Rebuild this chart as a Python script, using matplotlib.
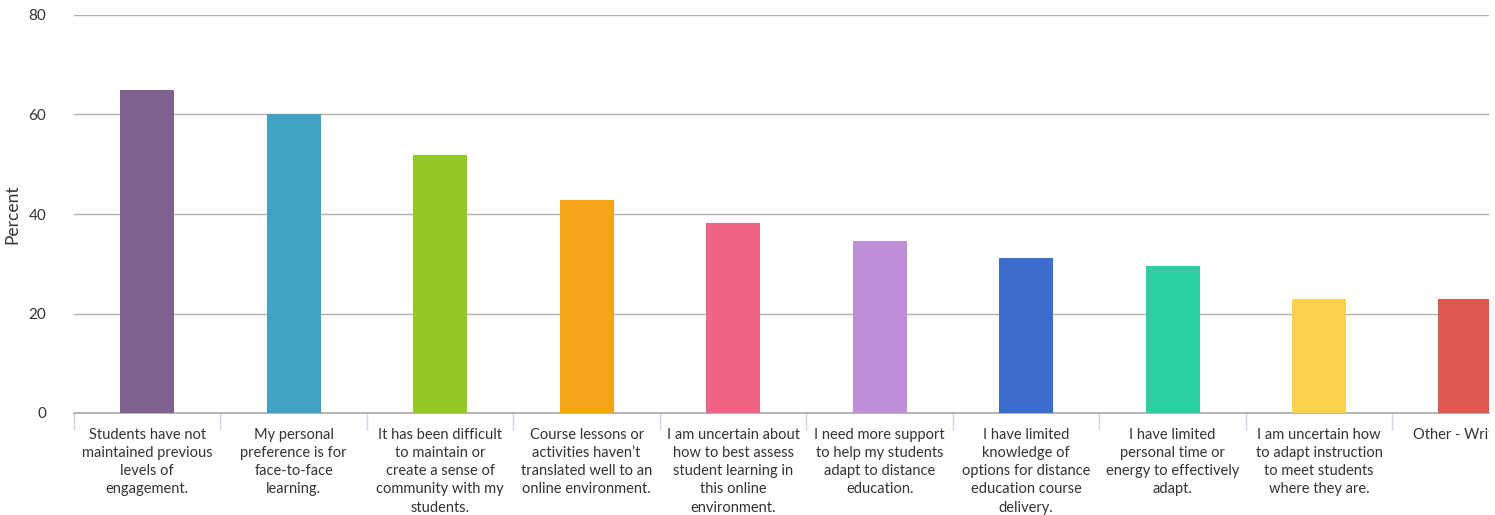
import numpy as np
import matplotlib.pyplot as plt
from matplotlib.transforms import Bbox, TransformedBbox

categorias = [
    "Students have not\nmaintained previous\nlevels of\nengagement.",
    "My personal\npreference is for\nface-to-face\nlearning.",
    "It has been difficult\nto maintain or\ncreate a sense of\ncommunity with my\nstudents.",
    "Course lessons or\nactivities haven\u2019t\ntranslated well to an\nonline environment.",
    "I am uncertain about\nhow to best assess\nstudent learning in\nthis online\nenvironment.",
    "I need more support\nto help my students\nadapt to distance\neducation.",
    "I have limited\nknowledge of\noptions for distance\neducation course\ndelivery.",
    "I have limited\npersonal time or\nenergy to effectively\nadapt.",
    "I am uncertain how\nto adapt instruction\nto meet students\nwhere they are.",
    "Other - Write In",
]
porcentajes = [65.0, 60.2, 51.8, 42.9, 38.1, 34.5, 31.2, 29.6, 23.0, 23.0]
colores = ["#7E6191", "#3FA2C4", "#93C926", "#F4A41B", "#F06487",
           "#BE90DA", "#3C6CCC", "#2BCFA2", "#FAD24A", "#DE5A50"]
y_ticks = [0, 20, 40, 60, 80]

plt.rcParams['font.family'] = ['Lato', 'DejaVu Sans']

fig = plt.figure(figsize=(14.95, 5.15), dpi=100)
ax = fig.add_axes([74 / 1495, 102 / 515, (1489 - 74) / 1495, 398 / 515])

x = np.arange(len(categorias))
ax.bar(x, porcentajes, width=0.37, color=colores, zorder=3)

# separadores entre categorias
ax.set_xticks(np.arange(-0.5, 9.6, 1.0))
ax.set_xticklabels([])
ax.tick_params(axis='x', length=12, width=1, color='#CCD6E8')

ax.set_xlim(-0.5, 9.16)
ax.set_ylim(0, 80)
ax.set_yticks(y_ticks)
ax.tick_params(axis='y', length=0, pad=20, labelsize=11, labelcolor='#333333')
ax.grid(axis='y', color='#B0B0B0', linewidth=1, zorder=0)
ax.set_axisbelow(True)
for s in ['top', 'right', 'left']:
    ax.spines[s].set_visible(False)
ax.spines['bottom'].set_color('#A8A8A8')
ax.spines['bottom'].set_linewidth(1.2)
ax.set_ylabel("Percent", fontsize=12.5, color='#333333', labelpad=6)

# la ultima etiqueta queda cortada en el borde, como en el original
clip = TransformedBbox(Bbox([[0, 0], [1489 / 1495, 1]]), fig.transFigure)
for i, c in enumerate(categorias):
    t = ax.text(i, -3.0, c, ha='center', va='top', fontsize=10.5,
                color='#333333', linespacing=1.38)
    t.set_clip_box(clip)
    t.set_clip_on(True)

fig.savefig("out.png", dpi=100)
